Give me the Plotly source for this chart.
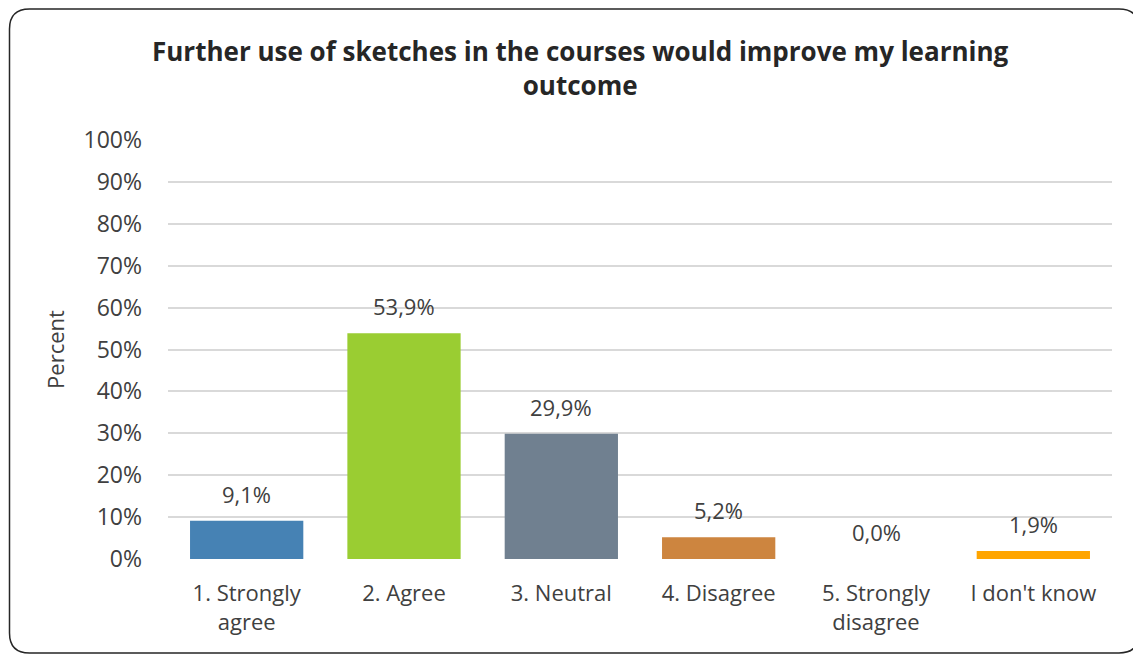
import plotly.graph_objects as go

categories = ["1. Strongly<br>agree", "2. Agree", "3. Neutral", "4. Disagree", "5. Strongly<br>disagree", "I don't know"]
values = [9.1, 53.9, 29.9, 5.2, 0.0, 1.9]
labels = ["9,1%", "53,9%", "29,9%", "5,2%", "0,0%", "1,9%"]
colors = ["#4682B4", "#9ACD32", "#708090", "#CD853F", "#FF8C00", "#FFA500"]
y_ticks = list(range(0, 101, 10))
y_ticklabels = [f"{v}%" for v in y_ticks]

# page is offset by 8px body margin; figure sized to fit the window
W, H = 1133, 647
L, R, T, B = 160, 29, 132, 96
pw, ph = W - L - R, H - T - B

def px(x):
    return (x - L) / pw

def py(y):
    return (H - B - y) / ph

FONT = "Open Sans, Liberation Sans, sans-serif"
TXT = "#404040"

fig = go.Figure(go.Bar(
    x=categories, y=values, marker_color=colors, marker_line_width=0,
    hoverinfo="x+y",
))

for c, v, t in zip(categories, values, labels):
    fig.add_annotation(x=c, y=v, text=t, showarrow=False, xref="x", yref="y",
                       yanchor="middle", yshift=27,
                       font=dict(size=22, color=TXT, family=FONT))

# rounded border
x0, x1, y0, y1, r = 1.5, 1131, 1, 645, 20
path = (f"M {px(x0+r)},{py(y0)} L {px(x1-r)},{py(y0)} Q {px(x1)},{py(y0)} {px(x1)},{py(y0+r)} "
        f"L {px(x1)},{py(y1-r)} Q {px(x1)},{py(y1)} {px(x1-r)},{py(y1)} "
        f"L {px(x0+r)},{py(y1)} Q {px(x0)},{py(y1)} {px(x0)},{py(y1-r)} "
        f"L {px(x0)},{py(y0+r)} Q {px(x0)},{py(y0)} {px(x0+r)},{py(y0)} Z")

fig.update_layout(
    width=W, height=H,
    margin=dict(l=L, r=R, t=T, b=B),
    paper_bgcolor="white", plot_bgcolor="white",
    font=dict(family=FONT, color=TXT, size=22),
    title=dict(text="<b>Further use of sketches in the courses would improve my learning<br>outcome</b>",
               x=0.505, xanchor="center", y=1 - 53 / H, yanchor="middle",
               font=dict(size=26, color="#262626", family=FONT)),
    bargap=0.28,
    showlegend=False,
    shapes=[dict(type="path", path=path, xref="paper", yref="paper",
                 line=dict(color="#262626", width=1.5), fillcolor="rgba(0,0,0,0)", layer="above")],
)
fig.update_yaxes(range=[0, 100], tickvals=y_ticks, ticktext=y_ticklabels,
                 showgrid=True, gridcolor="#d9d9d9", gridwidth=2, zeroline=False,
                 showline=False, ticks="", ticklen=0, ticklabelstandoff=25,
                 tickfont=dict(size=23, color=TXT),
                 title=dict(text="Percent", font=dict(size=22, color=TXT), standoff=12))
fig.update_xaxes(showline=False, ticks="", tickfont=dict(size=22, color=TXT),
                 ticklabelstandoff=19, tickangle=0)

fig.write_html("out.html")
